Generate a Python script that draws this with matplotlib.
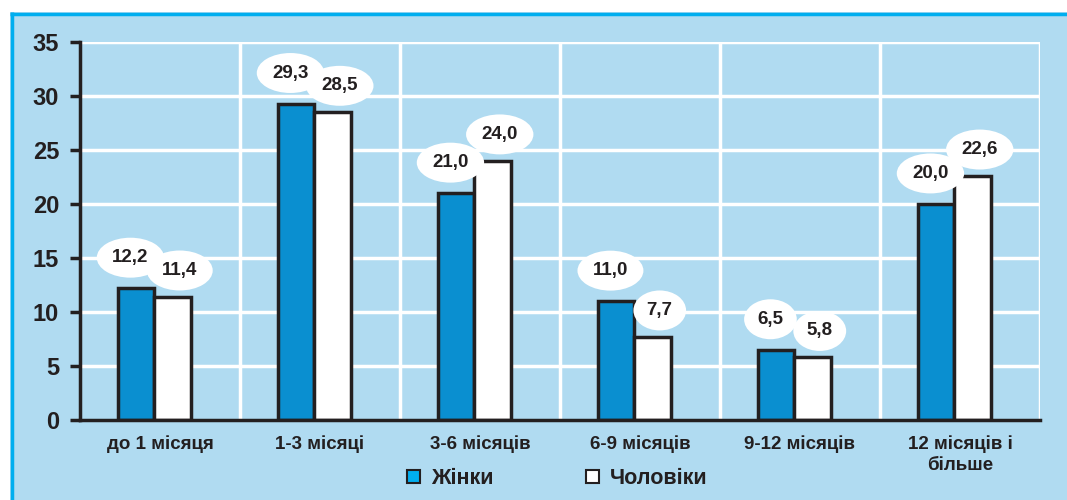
import numpy as np
import matplotlib.pyplot as plt
from matplotlib.patches import Patch
from matplotlib.lines import Line2D

plt.rcParams['font.family'] = ['Liberation Sans', 'DejaVu Sans']
plt.rcParams['font.weight'] = 'bold'

categories = ['до 1 місяця', '1-3 місяці', '3-6 місяців', '6-9 місяців',
              '9-12 місяців', '12 місяців і\nбільше']
women = [12.2, 29.3, 21.0, 11.0, 6.5, 20.0]
men = [11.4, 28.5, 24.0, 7.7, 5.8, 22.6]
series_names = ['Жінки', 'Чоловіки']

bg = '#B0DBF1'
bar_blue = '#0A8FD0'
legend_blue = '#00AEEF'
text_col = '#231F20'

fig = plt.figure(figsize=(10.67, 5.0), dpi=100)
fig.patch.set_facecolor('white')

# light blue panel with cyan frame on top and left
fig.patches.append(plt.Rectangle((10 / 1067, 0), 1 - 10 / 1067, 1 - 12 / 500,
                                 transform=fig.transFigure, facecolor=bg,
                                 edgecolor='none', zorder=-10))
fig.lines.append(Line2D([10 / 1067, 1], [1 - 13.5 / 500, 1 - 13.5 / 500],
                        transform=fig.transFigure, color=legend_blue, lw=2.5,
                        solid_capstyle='butt'))
fig.lines.append(Line2D([11.5 / 1067, 11.5 / 1067], [0, 1 - 12 / 500],
                        transform=fig.transFigure, color=legend_blue, lw=2.5,
                        solid_capstyle='butt'))

ax = fig.add_axes([80 / 1067, 0.16, (1040 - 80) / 1067, 0.756])
ax.set_facecolor(bg)

x = np.arange(len(categories))
w = 0.23
shift = -0.035
ax.bar(x + shift - w / 2, women, w, color=bar_blue, edgecolor=text_col,
       linewidth=2.5, zorder=3)
ax.bar(x + shift + w / 2, men, w, color='white', edgecolor=text_col,
       linewidth=2.5, zorder=3)

ell = dict(boxstyle='ellipse,pad=0.3', facecolor='white', edgecolor='none')
for i in range(len(categories)):
    ax.annotate(f'{women[i]:.1f}'.replace('.', ','), (x[i] + shift - w / 2, women[i]),
                xytext=(-4, 22), textcoords='offset points', ha='center',
                va='center', fontsize=13.5, color=text_col, bbox=ell, zorder=5)
    ax.annotate(f'{men[i]:.1f}'.replace('.', ','), (x[i] + shift + w / 2, men[i]),
                xytext=(5, 19), textcoords='offset points', ha='center',
                va='center', fontsize=13.5, color=text_col, bbox=ell, zorder=5)

ax.set_xlim(-0.5, len(categories) - 0.5)
ax.set_ylim(0, 35)
ax.set_yticks(np.arange(0, 36, 5))
ax.set_xticks(x)
ax.set_xticklabels(categories, fontsize=13.5, color=text_col, linespacing=1.3)
ax.tick_params(axis='x', length=0, pad=11)
ax.tick_params(axis='y', length=7, width=2.5, color=text_col, pad=8,
               labelsize=17, labelcolor=text_col)

for yv in np.arange(5, 36, 5):
    ax.axhline(yv, color='white', lw=2.5, zorder=1)
for xv in np.arange(0.5, len(categories), 1):
    ax.axvline(xv, color='white', lw=2.5, zorder=1)

for s in ['top', 'right']:
    ax.spines[s].set_visible(False)
ax.spines['left'].set_linewidth(2.5)
ax.spines['bottom'].set_linewidth(2.5)
ax.spines['left'].set_color(text_col)
ax.spines['bottom'].set_color(text_col)
ax.spines['left'].set_zorder(4)
ax.spines['bottom'].set_zorder(4)

handles = [Patch(facecolor=legend_blue, edgecolor=text_col, linewidth=1.5),
           Patch(facecolor='white', edgecolor=text_col, linewidth=1.5)]
fig.legend(handles, series_names, loc='center', bbox_to_anchor=(0.522, 0.043),
           ncol=2, frameon=False, fontsize=15.5, handlelength=0.6,
           handleheight=0.6, handletextpad=0.5, columnspacing=4.3,
           labelcolor=text_col)

fig.savefig('out.png', dpi=100, facecolor=fig.get_facecolor())
